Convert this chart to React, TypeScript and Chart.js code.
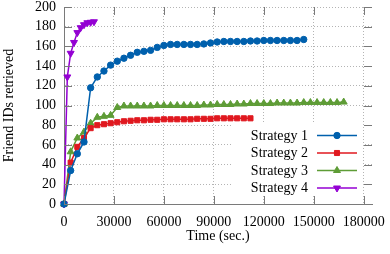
import React, { useEffect, useRef } from "react";
import { Chart, registerables } from "chart.js";

Chart.register(...registerables);

// ---- data ----
const s1Time = [0, 4000, 8000, 12000, 16000, 20000, 24000, 28000, 32000, 36000, 40000, 44000, 48000, 52000, 56000, 60000, 64000, 68000, 72000, 76000, 80000, 84000, 88000, 92000, 96000, 100000, 104000, 108000, 112000, 116000, 120000, 124000, 128000, 132000, 136000, 140000, 144000];
const s1Vals = [0, 34, 51, 63, 118, 129, 135, 141, 145, 148, 151, 154, 155, 156, 159, 161, 162, 162, 162, 162, 162, 162.5, 163.5, 164.5, 165, 165, 165, 165, 165.5, 165.5, 166, 166, 166, 166, 166, 166, 167];

const s2Time = [0, 4000, 8000, 12000, 16000, 20000, 24000, 28000, 32000, 36000, 40000, 44000, 48000, 52000, 56000, 60000, 64000, 68000, 72000, 76000, 80000, 84000, 88000, 92000, 96000, 100000, 104000, 108000, 112000];
const s2Vals = [0, 42, 58, 67, 77, 80, 81, 82, 83, 84, 84.5, 85, 85, 85.5, 85.5, 86, 86, 86, 86, 86, 86.5, 86.5, 86.5, 87, 87, 87, 87, 87, 87];

const s3Time = [0, 4000, 8000, 12000, 16000, 20000, 24000, 28000, 32000, 36000, 40000, 44000, 48000, 52000, 56000, 60000, 64000, 68000, 72000, 76000, 80000, 84000, 88000, 92000, 96000, 100000, 104000, 108000, 112000, 116000, 120000, 124000, 128000, 132000, 136000, 140000, 144000, 148000, 152000, 156000, 160000, 164000, 168000];
const s3Vals = [0, 53, 67, 73, 82, 88, 89, 90, 98, 99.5, 99.5, 99.5, 99.5, 99.5, 100, 100, 100, 100, 100, 100, 100, 100.5, 100.5, 101, 101, 101, 101.5, 101.5, 102, 102, 102, 102, 102.5, 102.5, 102.5, 102.5, 103, 103, 103, 103, 103, 103, 103.5];

const s4Time = [0, 2000, 4000, 6000, 8000, 10000, 12000, 14000, 16000, 18000];
const s4Vals = [0, 129, 153, 164, 174, 179, 182, 184, 184.5, 185];

const seriesNames = ["Strategy 1", "Strategy 2", "Strategy 3", "Strategy 4"];
const seriesColors = ["#0060ad", "#e0181f", "#5e9c36", "#9400d3"];
const seriesMarkers = ["circle", "rect", "triangle", "triangleDown"];

const xTickValues = [0, 30000, 60000, 90000, 120000, 150000, 180000];
const yTickValues = [0, 20, 40, 60, 80, 100, 120, 140, 160, 180, 200];

const xTitle = "Time (sec.)";
const yTitle = "Friend IDs retrieved";

const FONT = "'Liberation Serif', 'Times New Roman', serif";
const AXIS = "#7a7a7a";
const GRID = "#b4b4b4";

const markerRadius: Record<string, number> = { circle: 3.2, rect: 3.6, triangle: 4, triangleDown: 4 };

function drawMarker(ctx: CanvasRenderingContext2D, style: string, x: number, y: number, color: string) {
  const r = markerRadius[style];
  ctx.save();
  ctx.fillStyle = color;
  ctx.strokeStyle = color;
  ctx.lineWidth = 1;
  ctx.beginPath();
  if (style === "circle") {
    ctx.arc(x, y, r, 0, Math.PI * 2);
  } else if (style === "rect") {
    const s = r * Math.SQRT1_2;
    ctx.rect(x - s, y - s, 2 * s, 2 * s);
  } else {
    const dir = style === "triangle" ? 1 : -1;
    const h = r * Math.cos(Math.PI / 3);
    const w = r * Math.sin(Math.PI / 3);
    ctx.moveTo(x, y - dir * r);
    ctx.lineTo(x + w, y + dir * h);
    ctx.lineTo(x - w, y + dir * h);
    ctx.closePath();
  }
  ctx.fill();
  ctx.stroke();
  ctx.restore();
}

const keyPlugin = {
  id: "gnuKey",
  afterDatasetsDraw(chart: any) {
    const ctx: CanvasRenderingContext2D = chart.ctx;
    ctx.save();
    ctx.fillStyle = "#ffffff";
    ctx.fillRect(231, 123, 132, 73);
    ctx.font = `14px ${FONT}`;
    ctx.textAlign = "right";
    ctx.textBaseline = "middle";
    chart.data.datasets.forEach((ds: any, i: number) => {
      const yy = 135.5 + i * 17.5;
      ctx.fillStyle = "#000";
      ctx.fillText(ds.label, 308, yy + 0.5);
      ctx.strokeStyle = ds.borderColor;
      ctx.lineWidth = 1.5;
      ctx.beginPath();
      ctx.moveTo(317, yy);
      ctx.lineTo(357, yy);
      ctx.stroke();
      drawMarker(ctx, seriesMarkers[i], 337, yy, ds.borderColor);
    });
    ctx.restore();
  },
};

const tickPlugin = {
  id: "innerTicks",
  afterDraw(chart: any) {
    const ctx: CanvasRenderingContext2D = chart.ctx;
    const { left, right, top, bottom } = chart.chartArea;
    const xs = chart.scales.x;
    const ys = chart.scales.y;
    ctx.save();
    ctx.strokeStyle = AXIS;
    ctx.lineWidth = 1;
    ctx.beginPath();
    xTickValues.forEach((v) => {
      const px = Math.round(xs.getPixelForValue(v)) + 0.5;
      ctx.moveTo(px, bottom);
      ctx.lineTo(px, bottom - 8);
      ctx.moveTo(px, top);
      ctx.lineTo(px, top + 8);
    });
    yTickValues.forEach((v) => {
      const py = Math.round(ys.getPixelForValue(v)) + 0.5;
      ctx.moveTo(left, py);
      ctx.lineTo(left + 8, py);
      ctx.moveTo(right, py);
      ctx.lineTo(right - 8, py);
    });
    ctx.stroke();
    ctx.restore();
  },
};

export default function App() {
  const ref = useRef<HTMLCanvasElement>(null);
  useEffect(() => {
    document.body.style.margin = "0";
    const canvas = ref.current!;
    const times = [s1Time, s2Time, s3Time, s4Time];
    const vals = [s1Vals, s2Vals, s3Vals, s4Vals];
    const datasets = seriesNames.map((name, i) => {
      const style = seriesMarkers[i];
      return {
        label: name,
        data: times[i].map((t, j) => ({ x: t, y: vals[i][j] })),
        borderColor: seriesColors[i],
        backgroundColor: seriesColors[i],
        borderWidth: 1.5,
        pointStyle: style === "triangleDown" ? "triangle" : style,
        pointRotation: style === "triangleDown" ? 180 : 0,
        pointRadius: markerRadius[style],
        pointBorderWidth: 1,
        tension: 0,
        fill: false,
        clip: false,
      };
    });
    const chart = new Chart(canvas, {
      type: "line",
      data: { datasets } as any,
      options: {
        responsive: false,
        animation: false,
        devicePixelRatio: 1,
        layout: { padding: { top: 7, right: 18, left: 0, bottom: 0 } },
        plugins: { legend: { display: false }, tooltip: { enabled: false } },
        scales: {
          x: {
            type: "linear",
            min: 0,
            max: 185000,
            afterBuildTicks: (s: any) => {
              s.ticks = xTickValues.map((v) => ({ value: v }));
            },
            afterFit: (s: any) => {
              s.height = 50;
              s.paddingLeft = 0;
              s.paddingRight = 0;
            },
            ticks: {
              color: "#000",
              font: { family: FONT, size: 14 },
              padding: 10,
              maxRotation: 0,
              autoSkip: false,
              callback: (v: any) => String(v),
            },
            grid: { color: GRID, drawTicks: false, lineWidth: 1 },
            border: { display: true, color: AXIS, width: 1, dash: [1, 2] },
            title: {
              display: true,
              text: xTitle,
              color: "#000",
              font: { family: FONT, size: 14 },
              padding: { top: 0, bottom: 9 },
            },
          },
          y: {
            type: "linear",
            min: 0,
            max: 200,
            afterBuildTicks: (s: any) => {
              s.ticks = yTickValues.map((v) => ({ value: v }));
            },
            afterFit: (s: any) => {
              s.width = 64;
              s.paddingTop = 0;
              s.paddingBottom = 0;
            },
            ticks: {
              color: "#000",
              font: { family: FONT, size: 14 },
              padding: 8,
              autoSkip: false,
            },
            grid: { color: GRID, drawTicks: false, lineWidth: 1 },
            border: { display: true, color: AXIS, width: 1, dash: [1, 2] },
            title: {
              display: true,
              text: yTitle,
              color: "#000",
              font: { family: FONT, size: 14 },
              padding: { top: 1, bottom: 0 },
            },
          },
        },
      },
      plugins: [keyPlugin, tickPlugin],
    } as any);
    return () => chart.destroy();
  }, []);
  return <canvas ref={ref} width={390} height={254} style={{ display: "block" }} />;
}
